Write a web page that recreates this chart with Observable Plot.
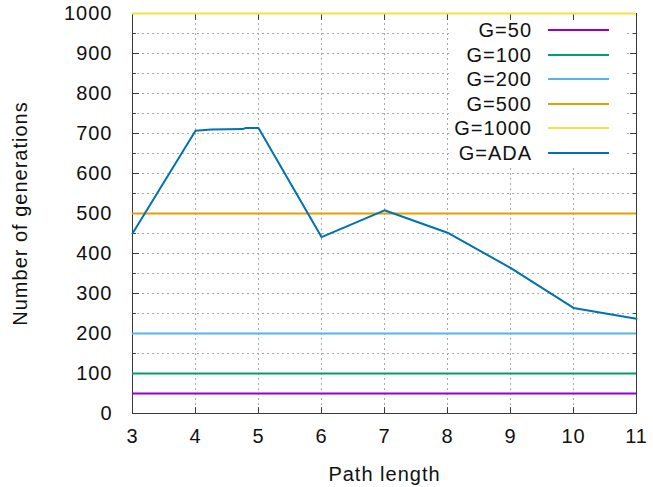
<!DOCTYPE html>
<html>
<head>
<meta charset="utf-8">
<script src="https://cdn.jsdelivr.net/npm/d3@7"></script>
<script src="https://cdn.jsdelivr.net/npm/@observablehq/plot@0.6"></script>
<style>
  body { margin: 0; background: #fff; }
  #chart { position: relative; width: 653px; height: 487px; font-family: "Liberation Sans", Arial, sans-serif; }
  #legend { position: absolute; left: 449px; top: 20px; width: 175px; height: 148px; background: #fff; }
  .row { position: absolute; left: 0; width: 175px; height: 24px; }
  .row span { position: absolute; right: 92px; top: 0; line-height: 24px; font-size: 20px; letter-spacing: 1px; color: #111; white-space: nowrap; }
  .row i { position: absolute; left: 99px; width: 61px; top: 11px; height: 0; border-top: 2px solid; }
</style>
</head>
<body>
<div id="chart"></div>
<script>
// Fixed generation budgets, drawn as flat reference lines
const budgetNames = ["G=50", "G=100", "G=200", "G=500", "G=1000"];
const budgetValues = [50, 100, 200, 500, 1000];
// Adaptive run: generations needed per path length
const adaName = "G=ADA";
const adaPathLength = [3, 4, 4.25, 4.75, 4.8, 5, 6, 7, 8, 9, 10, 11];
const adaGenerations = [450, 707, 710, 711, 714, 714, 441, 508, 452, 364, 264, 237];
// Axis ticks
const xTicks = [3, 4, 5, 6, 7, 8, 9, 10, 11];
const yTicks = [0, 100, 200, 300, 400, 500, 600, 700, 800, 900, 1000];
const yMinorTicks = [50, 150, 250, 350, 450, 550, 650, 750, 850, 950];

const seriesColors = ["#9400d3", "#009e73", "#56b4e9", "#e69f00", "#f0e442", "#0072b2"];
const frameColor = "#3a3a3a";
const gridColor = "#a8a8a8";

const budgets = budgetNames.map((name, i) => ({name, value: budgetValues[i], color: seriesColors[i]}));
const ada = adaPathLength.map((x, i) => ({x, y: adaGenerations[i]}));

const xMin = d3.min(xTicks), xMax = d3.max(xTicks);
const yMin = d3.min(yTicks), yMax = d3.max(yTicks);

// Short straight stroke used for the inward tick marks
const tickShape = {draw(context, l) { context.moveTo(0, 0); context.lineTo(0, -l); }};
const ticks = (data, opts) => Plot.vector(data, {anchor: "start", shape: tickShape, stroke: frameColor, strokeWidth: 1, ...opts});

const chart = Plot.plot({
  width: 653,
  height: 487,
  marginLeft: 132,
  marginRight: 17,
  marginTop: 13,
  marginBottom: 74,
  style: "font-family: 'Liberation Sans', Arial, sans-serif; font-size: 20px; letter-spacing: 1px; color: #111; background: #fff; overflow: visible;",
  x: {domain: [xMin, xMax], label: null},
  y: {domain: [yMin, yMax], label: null},
  marks: [
    Plot.gridX(xTicks, {stroke: gridColor, strokeOpacity: 1, strokeDasharray: "2,3"}),
    Plot.gridY([...yTicks, ...yMinorTicks], {stroke: gridColor, strokeOpacity: 1, strokeDasharray: "2,3"}),
    Plot.frame({stroke: frameColor, strokeWidth: 1}),
    // inward ticks on all four sides
    ticks(yTicks, {x: xMin, y: d => d, rotate: 90, length: 6}),
    ticks(yMinorTicks, {x: xMin, y: d => d, rotate: 90, length: 3}),
    ticks(yTicks, {x: xMax, y: d => d, rotate: -90, length: 6}),
    ticks(yMinorTicks, {x: xMax, y: d => d, rotate: -90, length: 3}),
    ticks(xTicks, {x: d => d, y: yMin, rotate: 0, length: 6}),
    ticks(xTicks, {x: d => d, y: yMax, rotate: 180, length: 6}),
    Plot.axisX(xTicks, {tickSize: 0, tickPadding: 15, tickFormat: d => String(d), fill: "#111"}),
    Plot.axisY(yTicks, {tickSize: 0, tickPadding: 20, tickFormat: d => String(d), fill: "#111"}),
    // fixed budgets
    Plot.ruleY(budgets, {y: "value", x1: xMin, x2: xMax, stroke: "color", strokeWidth: 2}),
    // adaptive run
    Plot.line(ada, {x: "x", y: "y", stroke: seriesColors[5], strokeWidth: 2}),
    Plot.text(["Path length"], {frameAnchor: "bottom", dy: 61, fill: "#111", textAnchor: "middle", lineAnchor: "middle"}),
    Plot.text(["Number of generations"], {frameAnchor: "left", dx: -112, rotate: -90, fill: "#111", textAnchor: "middle", lineAnchor: "middle"})
  ]
});

const host = document.getElementById("chart");
host.appendChild(chart);

// Key in the upper right of the plot area
const legend = document.createElement("div");
legend.id = "legend";
[...budgetNames, adaName].forEach((name, i) => {
  const row = document.createElement("div");
  row.className = "row";
  row.style.top = (-2 + i * 24.6) + "px";
  const label = document.createElement("span");
  label.textContent = name;
  const swatch = document.createElement("i");
  swatch.style.borderColor = seriesColors[i];
  row.appendChild(label);
  row.appendChild(swatch);
  legend.appendChild(row);
});
host.appendChild(legend);
</script>
</body>
</html>
